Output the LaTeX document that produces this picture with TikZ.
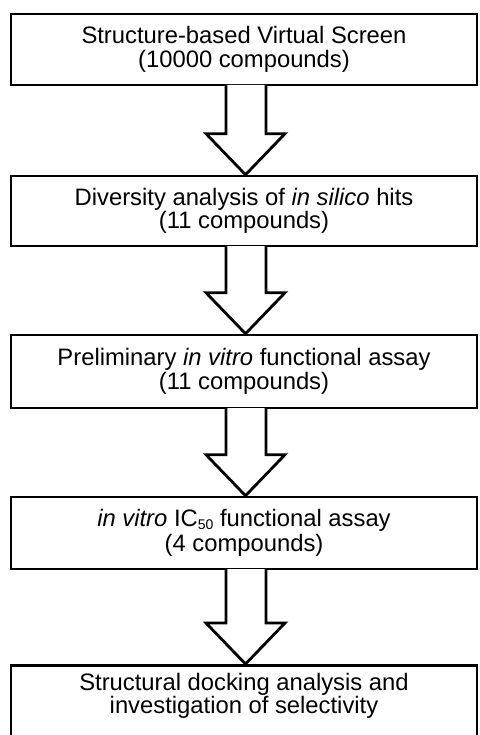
\documentclass[tikz,border=0pt]{standalone}
\usepackage{fontspec}
\setmainfont{Liberation Sans}
\usetikzlibrary{calc}
\begin{document}
\begin{tikzpicture}[x=1pt,y=-1pt,
  boxtext/.style={font=\fontsize{23.8}{23.5}\selectfont, align=center},
  box/.style={boxtext, draw=black, line width=2.6pt, fill=white, minimum width=466pt, inner sep=0pt},
  arrowline/.style={draw=black, line width=2.8pt, line join=miter, fill=white}]
\useasboundingbox (0,0) rectangle (479,735);
\clip (0,0) rectangle (479,735);
\node[box, minimum height=71pt] (b1) at (244,49.5) {Structure-based Virtual Screen\\(10000 compounds)};
\node[box, minimum height=70pt] (b2) at (244,211) {Diversity analysis of \textit{in silico} hits\\(11 compounds)};
\node[box, minimum height=73pt] (b3) at (244,371.5) {Preliminary \textit{in vitro} functional assay\\(11 compounds)};
\node[box, minimum height=72pt] (b4) at (244,533) {\textit{in vitro} IC\raisebox{-0.1em}{\fontsize{14}{14}\selectfont 50} functional assay\\[1pt](4 compounds)};
\node[box, minimum height=73pt, anchor=north] (b5) at (244,664) {};
\node[boxtext, inner sep=0pt] (t5) at (244,696) {Structural docking analysis and\\investigation of selectivity};
\foreach \a/\b in {b1/b2,b2/b3,b3/b4,b4/b5} {
  \path[arrowline] let \p1=(\a.south), \p2=(\b.north) in
    (\x1-18pt,\y1+1.3pt) -- (\x1-18pt,\y2+41pt) -- (\x1-38pt,\y2+41pt) -- (\x1+1.5pt,\y2)
    -- (\x1+41pt,\y2+41pt) -- (\x1+22pt,\y2+41pt) -- (\x1+22pt,\y1+1.3pt);
}
\end{tikzpicture}
\end{document}
